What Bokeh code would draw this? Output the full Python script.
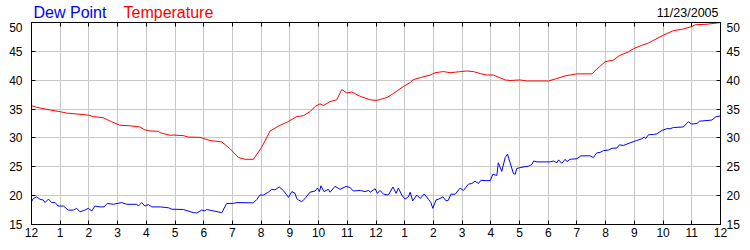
from bokeh.plotting import figure
from bokeh.layouts import column
from bokeh.models import LinearAxis, FixedTicker, Range1d, CustomLabelingPolicy
from bokeh.core.properties import value
from bokeh.embed import file_html
from bokeh.resources import INLINE

# ---- data (hours since midnight, degrees F) ----
temp_hours = [0, 0.18, 0.64, 0.99, 1.23, 1.57, 1.98, 2.15, 2.50, 2.79, 3.08, 3.43, 3.78, 3.95,
              4.13, 4.42, 4.48, 4.83, 4.94, 5.29, 5.46, 5.87, 6.22, 6.63, 6.92, 7.21, 7.44, 7.73,
              8.02, 8.31, 8.66, 8.89, 9.24, 9.47, 9.70, 9.88, 10.05, 10.17, 10.40, 10.63, 10.81,
              10.98, 11.16, 11.45, 11.80, 12.03, 12.38, 12.61, 12.95, 13.19, 13.30, 13.54, 13.89,
              14.06, 14.35, 14.58, 14.87, 15.16, 15.39, 15.63, 15.86, 16.09, 16.32, 16.50, 16.67,
              17.02, 17.25, 18.01, 18.30, 18.59, 19.00, 19.52, 19.69, 19.98, 20.27, 20.49, 20.79,
              20.97, 21.26, 21.49, 21.72, 22.01, 22.36, 22.65, 23.00, 23.12, 23.53, 24.0]
temperature = [35.6, 35.3, 34.85, 34.55, 34.3, 34.15, 33.95, 33.7, 33.5, 32.8, 32.2, 32.1, 31.9, 31.4,
               31.2, 31.15, 30.9, 30.45, 30.5, 30.4, 30.15, 30.1, 29.55, 29.3, 28.1, 26.6, 26.3, 26.3,
               28.4, 31.2, 32.2, 32.7, 33.7, 33.85, 34.55, 35.45, 35.9, 35.6, 36.3, 36.6, 38.4,
               37.8, 37.95, 37.2, 36.6, 36.5, 37.0, 37.7, 38.9, 39.6, 40.1, 40.45, 40.9,
               41.3, 41.5, 41.3, 41.45, 41.6, 41.5, 41.15, 40.9, 40.9, 40.4, 40.05, 39.95,
               40.05, 39.87, 39.87, 40.3, 40.75, 41.1, 41.1, 41.9, 43.2, 43.5, 44.3, 44.9,
               45.45, 46.05, 46.45, 47.05, 47.8, 48.6, 48.8, 49.3, 49.6, 49.7, 50.0]

dew_hours = [0, 0.06, 0.18, 0.30, 0.41, 0.47, 0.59, 0.70, 0.82, 0.93, 1.11, 1.28, 1.46, 1.57, 1.69,
             1.86, 1.98, 2.10, 2.21, 2.39, 2.53, 2.64, 2.85, 3.14, 3.32, 3.67, 3.72, 3.84, 3.95,
             4.07, 4.19, 4.48, 4.77, 4.89, 5.29, 5.64, 5.76, 5.93, 6.05, 6.10, 6.39, 6.63, 6.80,
             7.03, 7.15, 7.73, 7.85, 7.96, 8.08, 8.25, 8.37, 8.48, 8.63, 8.77, 8.95, 9.07, 9.18,
             9.24, 9.30, 9.41, 9.53, 9.70, 9.88, 9.96, 10.03, 10.08, 10.19, 10.34, 10.40, 10.57,
             10.75, 10.96, 11.10, 11.21, 11.45, 11.62, 11.74, 11.80, 11.97, 12.05, 12.14, 12.26,
             12.43, 12.59, 12.70, 12.78, 12.90, 13.01, 13.13, 13.19, 13.28, 13.42, 13.54, 13.68,
             13.83, 13.91, 13.98, 14.09, 14.23, 14.33, 14.44, 14.52, 14.61, 14.76, 14.93, 15.05,
             15.22, 15.34, 15.45, 15.57, 15.65, 15.86, 15.98, 16.07, 16.21, 16.26, 16.38, 16.50,
             16.58, 16.67, 16.79, 16.85, 16.90, 17.02, 17.16, 17.31, 17.43, 17.49, 17.61, 18.07,
             18.18, 18.30, 18.36, 18.47, 18.59, 18.65, 18.76, 19.00, 19.14, 19.46, 19.57, 19.69,
             19.81, 19.92, 20.10, 20.22, 20.39, 20.48, 20.62, 20.85, 21.08, 21.26, 21.34, 21.40,
             21.49, 21.67, 21.78, 21.96, 22.13, 22.25, 22.36, 22.71, 22.82, 22.88, 23.00, 23.18,
             23.27, 23.70, 23.85, 24.0]
dew_point = [18.95, 19.5, 19.8, 19.35, 19.25, 18.8, 19.4, 18.8, 18.8, 18.2, 18.2, 17.5, 17.5, 17.8, 17.2,
             17.5, 17.8, 17.35, 18.2, 18.05, 18.05, 18.65, 18.5, 18.8, 18.5, 18.5, 18.2, 18.8, 18.2,
             18.45, 18.05, 18.05, 17.9, 17.65, 17.6, 17.05, 17.0, 17.5, 17.35, 17.6, 17.3, 17.05, 18.65,
             18.65, 18.8, 18.75, 19.35, 20.1, 20.1, 20.6, 21.1, 21.0, 21.5, 20.9, 19.7, 20.7, 20.4,
             19.5, 19.25, 18.95, 19.5, 20.6, 20.8, 21.3, 20.7, 21.7, 20.7, 21.1, 20.6, 21.6,
             21.1, 21.6, 21.4, 20.8, 20.9, 20.7, 20.9, 20.6, 21.2, 20.4, 20.9, 20.25,
             20.1, 21.5, 20.4, 21.3, 20.1, 19.4, 19.8, 20.6, 19.1, 20.1, 19.5, 20.3,
             19.35, 18.8, 17.8, 19.25, 19.5, 19.8, 19.1, 19.2, 20.25, 20.25, 21.3, 20.9,
             22.0, 22.1, 22.5, 22.1, 22.65, 22.6, 22.6, 23.7, 23.5, 25.7, 24.2, 26.6,
             27.2, 25.7, 23.8, 23.7, 24.7, 24.85, 25.0, 25.1, 25.4, 26.0, 25.85, 25.85,
             26.0, 25.7, 26.2, 25.6, 26.3, 25.9, 26.3, 26.4, 26.9, 26.9, 26.6, 27.4,
             27.5, 27.8, 27.9, 28.2, 28.25, 28.8, 28.7, 29.15, 29.55, 29.85, 30.15, 29.9,
             30.55, 30.6, 30.7, 31.3, 31.6, 31.6, 31.8, 31.9, 32.5, 32.8, 32.4, 32.5,
             32.9, 33.1, 33.7, 33.8]

hour_ticks = list(range(0, 25))
hour_labels = ["12", "1", "2", "3", "4", "5", "6", "7", "8", "9", "10", "11",
               "12", "1", "2", "3", "4", "5", "6", "7", "8", "9", "10", "11", "12"]
value_ticks = [15, 20, 25, 30, 35, 40, 45, 50]
date_text = "11/23/2005"
series_names = ["Dew Point", "Temperature"]
series_colors = ["#0000ff", "#ff0000"]

FONT = "Liberation Sans"

# ---------- header strip (legend texts + date); pixel-like ranges ----------
head = figure(width=750, height=22, output_backend="svg", toolbar_location=None,
              x_range=Range1d(31, 720), y_range=Range1d(22, 0),
              x_axis_location=None, y_axis_location=None,
              min_border_left=0, min_border_right=0, min_border_top=0, min_border_bottom=0)
head.outline_line_color = None
head.grid.visible = False
head.text(x=[33], y=[12], text=[series_names[0]], text_font=value(FONT),
          text_font_size=value("16px"), text_color=series_colors[0], text_baseline="alphabetic")
head.text(x=[123], y=[12], text=[series_names[1]], text_font=value(FONT),
          text_font_size=value("16px"), text_color=series_colors[1], text_baseline="alphabetic")
head.text(x=[718], y=[12.5], text=[date_text], text_font=value(FONT),
          text_font_size=value("12.5px"), text_color="black", text_align="right",
          text_baseline="alphabetic")

# ---------- main chart ----------
p = figure(width=750, height=228, output_backend="svg", toolbar_location=None,
           x_range=Range1d(0, 24), y_range=Range1d(15, 50),
           x_axis_location=None, y_axis_location=None,
           min_border_left=31, min_border_right=30, min_border_top=0, min_border_bottom=26)
p.outline_line_color = None
p.background_fill_color = "white"
p.border_fill_color = "white"


def style_axis(ax, standoff=5, size="12px"):
    ax.major_tick_in = 4
    ax.major_tick_out = 0
    ax.minor_tick_line_color = None
    ax.axis_line_color = "black"
    ax.major_tick_line_color = "black"
    ax.major_label_text_font = FONT
    ax.major_label_text_font_size = size
    ax.major_label_text_color = "black"
    ax.major_label_standoff = standoff


xticker = FixedTicker(ticks=hour_ticks)
yticker = FixedTicker(ticks=value_ticks)
overrides = {t: l for t, l in zip(hour_ticks, hour_labels)}

bottom = LinearAxis(ticker=xticker, major_label_overrides=overrides)
style_axis(bottom, 3)
p.add_layout(bottom, "below")

top = LinearAxis(ticker=xticker,
                 major_label_policy=CustomLabelingPolicy(code="return new Set()"))
style_axis(top, 0, "0px")
p.add_layout(top, "above")

left = LinearAxis(ticker=yticker)
style_axis(left, 9)
p.add_layout(left, "left")

right = LinearAxis(ticker=yticker)
style_axis(right, 6)
p.add_layout(right, "right")

p.xgrid.ticker = xticker
p.ygrid.ticker = yticker
p.xgrid.grid_line_color = "#c8c8c8"
p.ygrid.grid_line_color = "#c8c8c8"

p.line(temp_hours, temperature, line_color=series_colors[1], line_width=1)
p.line(dew_hours, dew_point, line_color=series_colors[0], line_width=1)

layout = column(head, p, spacing=0)
open("out.html", "w").write(file_html(layout, INLINE))
